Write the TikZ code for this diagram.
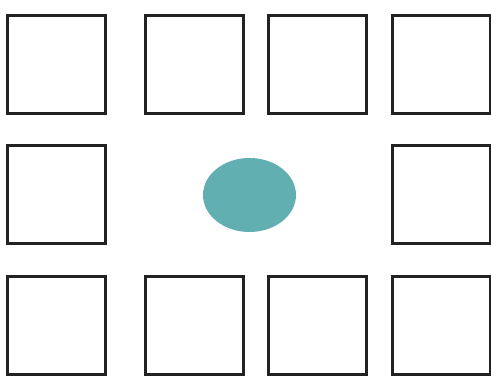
\documentclass[tikz,border=0pt]{standalone}
\usetikzlibrary{positioning,shapes.geometric}
\definecolor{seatline}{HTML}{222222}
\definecolor{tablefill}{HTML}{62AFB1}
\begin{document}
\begin{tikzpicture}[x=1pt, y=-1pt,
  seat/.style={draw=seatline, line width=3pt, minimum size=98pt, inner sep=0pt, fill=white},
  tbl/.style={ellipse, fill=tablefill, minimum width=93pt, minimum height=74pt, inner sep=0pt}]
\useasboundingbox (0,0) rectangle (491,382);
\node[seat] (s11) at (56.5,65) {};
\node[seat] (s12) at (194,65) {};
\node[seat] (s13) at (317.5,65) {};
\node[seat] (s14) at (441,65) {};
\node[seat] (s21) at (56.5,195) {};
\node[seat] (s24) at (441,195) {};
\node[seat] (s31) at (56.5,325.5) {};
\node[seat] (s32) at (194,325.5) {};
\node[seat] (s33) at (317.5,325.5) {};
\node[seat] (s34) at (441,325.5) {};
\node[tbl] (t) at (249.5,195) {};
\end{tikzpicture}
\end{document}
